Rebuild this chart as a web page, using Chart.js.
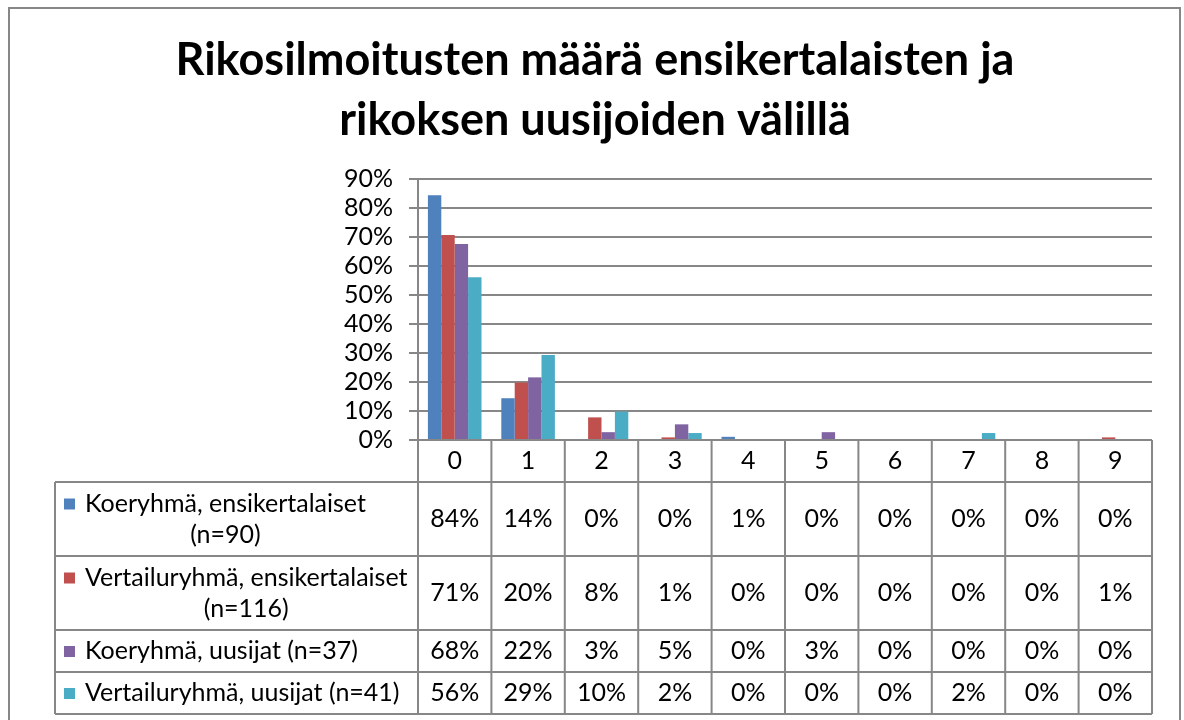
<!DOCTYPE html>
<html>
<head>
<meta charset="utf-8">
<script src="https://cdn.jsdelivr.net/npm/chart.js@4"></script>
<style>
  html, body { margin: 0; padding: 0; background: #fff; }
  #wrap { width: 1184px; height: 720px; }
</style>
</head>
<body>
<div id="wrap"><canvas id="rikosChart" width="1184" height="720"></canvas></div>
<script>
// data (percent of each group)
const categories = ['0', '1', '2', '3', '4', '5', '6', '7', '8', '9'];
const koeEnsi = [84.4, 14.4, 0, 0, 1.1, 0, 0, 0, 0, 0];
const vertEnsi = [70.7, 19.8, 7.8, 0.9, 0, 0, 0, 0, 0, 0.9];
const koeUusi = [67.6, 21.6, 2.7, 5.4, 0, 2.7, 0, 0, 0, 0];
const vertUusi = [56.1, 29.3, 9.8, 2.4, 0, 0, 0, 2.4, 0, 0];
const seriesNames = [
  ['Koeryhmä, ensikertalaiset', '(n=90)'],
  ['Vertailuryhmä, ensikertalaiset', '(n=116)'],
  ['Koeryhmä, uusijat (n=37)'],
  ['Vertailuryhmä, uusijat (n=41)']
];
const yMax = 90;
const yStep = 10;
const titleLines = ['Rikosilmoitusten määrä ensikertalaisten ja', 'rikoksen uusijoiden välillä'];

const colors = ['#4F81BD', '#C0504D', '#8064A2', '#4BACC6'];
const FONT = 'Lato, "Open Sans", sans-serif';
const LINE = '#878787';
const TXT = 25;

// table rows under the plot (y of each horizontal rule)
const rowEdges = [482, 556, 630, 672, 714];
const tableLeft = 55;
const padLeft = 38;

const frame = {
  id: 'frame',
  beforeDraw(c) {
    const g = c.ctx;
    g.save();
    g.strokeStyle = LINE;
    g.lineWidth = 2;
    g.strokeRect(9, 8, 1171, 740);
    g.restore();
  }
};

const dataTable = {
  id: 'dataTable',
  afterDraw(c) {
    const g = c.ctx;
    const x = c.scales.x;
    const area = c.chartArea;
    const colW = x.width / categories.length;
    const bottom = rowEdges[rowEdges.length - 1];
    g.save();
    g.strokeStyle = LINE;
    g.lineWidth = 2;
    g.beginPath();
    // horizontal rules
    rowEdges.forEach(y => { g.moveTo(tableLeft, y); g.lineTo(area.right, y); });
    // vertical rules
    g.moveTo(tableLeft, rowEdges[0]); g.lineTo(tableLeft, bottom);
    for (let i = 0; i <= categories.length; i++) {
      const px = area.left + i * colW;
      g.moveTo(px, area.bottom); g.lineTo(px, bottom);
    }
    g.stroke();

    g.fillStyle = '#000';
    g.font = TXT + 'px ' + FONT;
    g.textBaseline = 'middle';
    c.data.datasets.forEach((ds, r) => {
      const top = rowEdges[r], bot = rowEdges[r + 1];
      const mid = (top + bot) / 2;
      const lines = seriesNames[r];
      const lh = 31;
      const firstY = mid - (lines.length - 1) * lh / 2;
      const blockW = Math.max(...lines.map(t => g.measureText(t).width));
      const textLeft = 85;
      g.fillStyle = colors[r];
      g.fillRect(64, firstY - 5, 11, 11);
      g.fillStyle = '#000';
      g.textAlign = 'left';
      lines.forEach((t, k) => {
        const w = g.measureText(t).width;
        g.fillText(t, textLeft + (blockW - w) / 2, firstY + k * lh);
      });
      g.textAlign = 'center';
      ds.data.forEach((v, i) => {
        g.fillText(Math.round(v) + '%', x.getPixelForValue(i), mid);
      });
    });
    g.restore();
  }
};

const chart = new Chart(document.getElementById('rikosChart').getContext('2d'), {
  type: 'bar',
  data: {
    labels: categories,
    datasets: [
      { label: seriesNames[0].join(' '), data: koeEnsi, backgroundColor: colors[0] },
      { label: seriesNames[1].join(' '), data: vertEnsi, backgroundColor: colors[1] },
      { label: seriesNames[2].join(' '), data: koeUusi, backgroundColor: colors[2] },
      { label: seriesNames[3].join(' '), data: vertUusi, backgroundColor: colors[3] }
    ]
  },
  options: {
    responsive: false,
    animation: false,
    layout: { padding: { left: padLeft, right: 32, top: 0, bottom: 720 - rowEdges[0] } },
    datasets: {
      bar: { categoryPercentage: 0.73, barPercentage: 1.0, borderWidth: 0 }
    },
    plugins: {
      legend: { display: false },
      tooltip: { enabled: false },
      title: {
        display: true,
        text: titleLines,
        color: '#000',
        font: { family: FONT, size: 45, weight: 'bold', lineHeight: 1.33 },
        padding: { top: 31, bottom: 179 - 31 - 2 * 45 * 1.33 }
      }
    },
    scales: {
      x: {
        afterFit(s) { s.height = rowEdges[0] - 440; },
        grid: { display: false, drawTicks: false },
        border: { display: false },
        ticks: { color: '#000', font: { family: FONT, size: TXT }, padding: 6, maxRotation: 0 }
      },
      y: {
        min: 0,
        max: yMax,
        afterFit(s) { s.width = 418 - padLeft; },
        grid: { color: LINE, lineWidth: 2, tickLength: 9 },
        border: { color: LINE, width: 2 },
        ticks: {
          stepSize: yStep,
          autoSkip: false,
          color: '#000',
          font: { family: FONT, size: TXT },
          padding: 16,
          callback: v => v + '%'
        }
      }
    }
  },
  plugins: [frame, dataTable]
});
</script>
</body>
</html>
